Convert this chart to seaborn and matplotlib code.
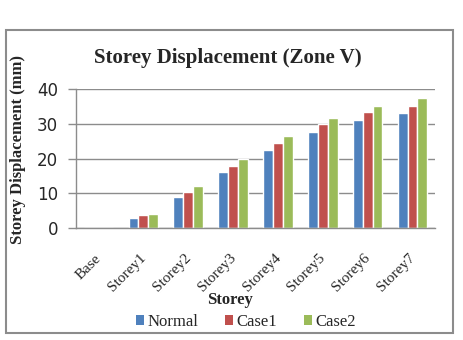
import matplotlib
matplotlib.use("Agg")
import matplotlib.pyplot as plt
import matplotlib.transforms as mtransforms
import seaborn as sns
import pandas as pd
from matplotlib.patches import Rectangle, Patch

categories = ["Base", "Storey1", "Storey2", "Storey3", "Storey4", "Storey5", "Storey6", "Storey7"]
normal = [0.0, 3.0, 8.9, 16.1, 22.5, 27.5, 31.1, 33.1]
case1 = [0.0, 3.75, 10.4, 17.9, 24.6, 29.9, 33.4, 35.0]
case2 = [0.0, 4.0, 12.1, 19.9, 26.5, 31.7, 35.2, 37.5]
series_names = ["Normal", "Case1", "Case2"]
colors = ["#4F81BD", "#C0504D", "#9BBB59"]
yticks = [0, 10, 20, 30, 40]

rows = []
for name, vals in zip(series_names, [normal, case1, case2]):
    for c, v in zip(categories, vals):
        rows.append({"Storey": c, "Series": name, "Value": v})
df = pd.DataFrame(rows)

sns.set_theme(style="white")
plt.rcParams["font.family"] = ["Liberation Serif", "DejaVu Serif"]

W, H = 463, 340
fig = plt.figure(figsize=(W / 100, H / 100), dpi=100)
ax = fig.add_axes([76 / W, 1 - 228 / H, (435 - 76) / W, (228 - 89) / H])

sns.barplot(data=df, x="Storey", y="Value", hue="Series", hue_order=series_names,
            palette=colors, ax=ax, width=0.66, saturation=1, errorbar=None,
            order=categories, legend=False)

ax.set_ylim(0, 40)
ax.set_xlim(-0.5, len(categories) - 0.5)
ax.set_yticks(yticks)
ax.set_yticklabels([str(t) for t in yticks], fontfamily="DejaVu Sans", fontsize=12)
ax.yaxis.grid(True, color="#8c8c8c", linewidth=1)
ax.set_axisbelow(True)
for s in ["top", "right"]:
    ax.spines[s].set_visible(False)
for s in ["left", "bottom"]:
    ax.spines[s].set_color("#8c8c8c")
    ax.spines[s].set_linewidth(1)
ax.tick_params(axis="y", which="major", length=6, color="#8c8c8c", width=1, pad=7, left=True)
ax.tick_params(axis="x", length=0, pad=17)
ax.set_xticks(range(len(categories)))
ax.set_xticklabels(categories, rotation=45, ha="right", rotation_mode="anchor",
                   fontsize=11, fontfamily="Liberation Serif")
offset = mtransforms.ScaledTranslation(-4 / 100, 0, fig.dpi_scale_trans)
for lab in ax.get_xticklabels():
    lab.set_transform(lab.get_transform() + offset)

ax.set_xlabel("")
ax.set_ylabel("Storey Displacement (mm)", fontsize=12, fontweight="bold",
              fontfamily="Liberation Serif")
ax.yaxis.set_label_coords((26 - 76) / (435 - 76), (228 - 150) / (228 - 89))

fig.text(230 / W, 1 - 300 / H, "Storey", ha="center", va="center",
         fontsize=12, fontweight="bold", fontfamily="Liberation Serif")

fig.text(228 / W, 1 - 58 / H, "Storey Displacement (Zone V)", ha="center", va="center",
         fontsize=15, fontweight="bold", fontfamily="Liberation Serif")

handles = [Patch(facecolor=c, edgecolor="none") for c in colors]
fig.legend(handles, series_names, loc="center", bbox_to_anchor=(246 / W, 1 - 322 / H),
           ncol=3, frameon=False, prop={"family": "Liberation Serif", "size": 12},
           handlelength=0.5, handleheight=0.5, handletextpad=0.2, columnspacing=1.6)

fig.patches.append(Rectangle((6 / W, 1 - 333 / H), (453 - 6) / W, (333 - 30) / H,
                             transform=fig.transFigure, fill=False, edgecolor="#8c8c8c",
                             linewidth=1.5))

fig.savefig("out.png", dpi=100, facecolor="white")
